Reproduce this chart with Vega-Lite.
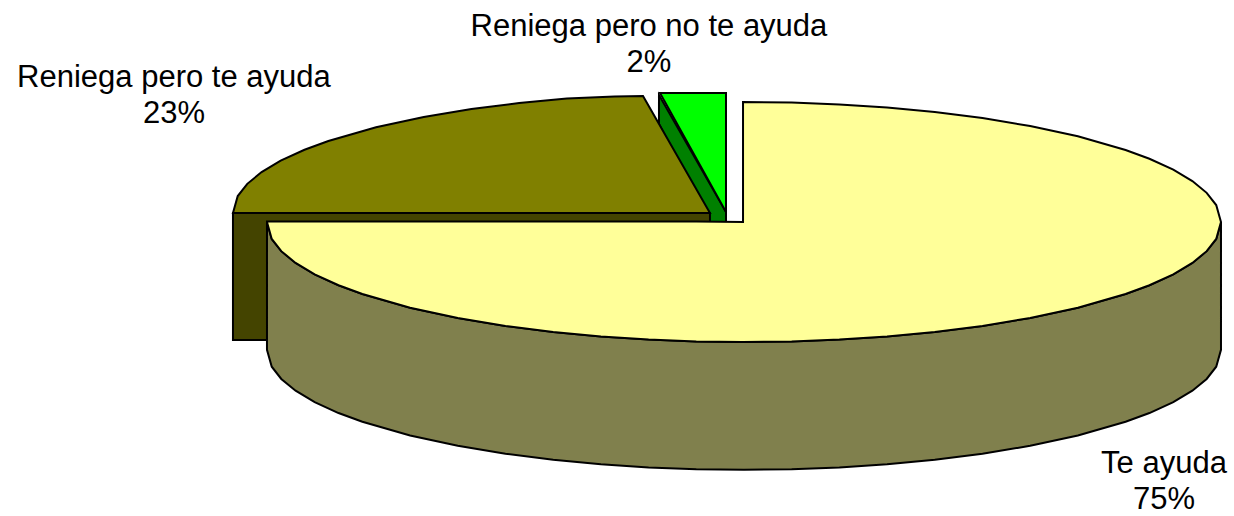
{
"$schema":"https://vega.github.io/schema/vega-lite/v6.json",
"width":1234,"height":516,
"autosize":{"type":"fit","contains":"padding"},
"padding":0,
"background":"white",
"view":{"stroke":null},
"datasets":{
"greenSide":[{"x":-17.82,"y":105.83,"y2":81.67},{"x":-7.13,"y":31.67,"y2":0},{"x":-3.77,"y":8.33,"y2":0}],
"greenTop":[{"x":-17.61,"y":107.5,"y2":107.5},{"x":-3.77,"y":107.5,"y2":8.33}],
"oliveSide":[{"x":-107.13,"y":7.5,"y2":-98.33},{"x":-7.13,"y":7.5,"y2":-98.33}],
"oliveTop":[{"x":-107.13,"y":7.5,"y2":7.5},{"x":-106.13,"y":21.6,"y2":7.5},{"x":-104.13,"y":31.8,"y2":7.5},{"x":-101.13,"y":41.6,"y2":7.5},{"x":-97.13,"y":51.1,"y2":7.5},{"x":-92.13,"y":60.2,"y2":7.5},{"x":-87.13,"y":67.5,"y2":7.5},{"x":-77.13,"y":78.9,"y2":7.5},{"x":-67.13,"y":87.5,"y2":7.5},{"x":-57.13,"y":94.1,"y2":7.5},{"x":-47.13,"y":99.2,"y2":7.5},{"x":-37.13,"y":102.9,"y2":7.5},{"x":-27.13,"y":104.6,"y2":7.5},{"x":-21.17,"y":105,"y2":7.5},{"x":-7.13,"y":7.5,"y2":7.5}],
"creamSide":[{"x":-100,"y":0,"y2":-106.5},{"x":-99,"y":-14.1,"y2":-120.6},{"x":-97,"y":-24.3,"y2":-130.8},{"x":-94,"y":-34.1,"y2":-140.6},{"x":-90,"y":-43.6,"y2":-150.1},{"x":-85,"y":-52.7,"y2":-159.2},{"x":-80,"y":-60,"y2":-166.5},{"x":-70,"y":-71.4,"y2":-177.9},{"x":-60,"y":-80,"y2":-186.5},{"x":-50,"y":-86.6,"y2":-193.1},{"x":-40,"y":-91.7,"y2":-198.2},{"x":-30,"y":-95.4,"y2":-201.9},{"x":-20,"y":-98,"y2":-204.5},{"x":-10,"y":-99.5,"y2":-206},{"x":0,"y":-100,"y2":-206.5},{"x":10,"y":-99.5,"y2":-206},{"x":20,"y":-98,"y2":-204.5},{"x":30,"y":-95.4,"y2":-201.9},{"x":40,"y":-91.7,"y2":-198.2},{"x":50,"y":-86.6,"y2":-193.1},{"x":60,"y":-80,"y2":-186.5},{"x":70,"y":-71.4,"y2":-177.9},{"x":80,"y":-60,"y2":-166.5},{"x":85,"y":-52.7,"y2":-159.2},{"x":90,"y":-43.6,"y2":-150.1},{"x":94,"y":-34.1,"y2":-140.6},{"x":97,"y":-24.3,"y2":-130.8},{"x":99,"y":-14.1,"y2":-120.6},{"x":100,"y":0,"y2":-106.5}],
"creamTop":[{"x":-100,"y":0.5,"y2":0},{"x":-99,"y":0.5,"y2":-14.1},{"x":-97,"y":0.5,"y2":-24.3},{"x":-94,"y":0.5,"y2":-34.1},{"x":-90,"y":0.5,"y2":-43.6},{"x":-85,"y":0.5,"y2":-52.7},{"x":-80,"y":0.5,"y2":-60},{"x":-70,"y":0.5,"y2":-71.4},{"x":-60,"y":0.5,"y2":-80},{"x":-50,"y":0.5,"y2":-86.6},{"x":-40,"y":0.5,"y2":-91.7},{"x":-30,"y":0.5,"y2":-95.4},{"x":-20,"y":0.5,"y2":-98},{"x":-10,"y":0.5,"y2":-99.5},{"x":-0.2,"y":0,"y2":-100},{"x":-0.2,"y":100,"y2":-100},{"x":10,"y":99.5,"y2":-99.5},{"x":20,"y":98,"y2":-98},{"x":30,"y":95.4,"y2":-95.4},{"x":40,"y":91.7,"y2":-91.7},{"x":50,"y":86.6,"y2":-86.6},{"x":60,"y":80,"y2":-80},{"x":70,"y":71.4,"y2":-71.4},{"x":80,"y":60,"y2":-60},{"x":85,"y":52.7,"y2":-52.7},{"x":90,"y":43.6,"y2":-43.6},{"x":94,"y":34.1,"y2":-34.1},{"x":97,"y":24.3,"y2":-24.3},{"x":99,"y":14.1,"y2":-14.1},{"x":100,"y":0,"y2":0}],
"labels":[{"x":-19.92,"y":162.5,"text":"Reniega pero no te ayuda"},{"x":-19.92,"y":132.5,"text":"2%"},{"x":-119.5,"y":120,"text":"Reniega pero te ayuda"},{"x":-119.5,"y":90,"text":"23%"},{"x":88.05,"y":-201.67,"text":"Te ayuda"},{"x":88.05,"y":-231.67,"text":"75%"}]
},
"encoding":{
"x":{"field":"x","type":"quantitative","axis":null,"scale":{"domain":[-155.97,102.73],"nice":false,"zero":false}},
"y":{"field":"y","type":"quantitative","axis":null,"scale":{"domain":[-245,185],"nice":false,"zero":false}}
},
"layer":[
{"data":{"name":"greenSide"},"mark":{"type":"area","fill":"#008000","stroke":"black","strokeWidth":2},"encoding":{"y2":{"field":"y2"}}},
{"data":{"name":"greenTop"},"mark":{"type":"area","fill":"#00ff00","stroke":"black","strokeWidth":2},"encoding":{"y2":{"field":"y2"}}},
{"data":{"name":"oliveSide"},"mark":{"type":"area","fill":"#444400","stroke":"black","strokeWidth":2},"encoding":{"y2":{"field":"y2"}}},
{"data":{"name":"oliveTop"},"mark":{"type":"area","fill":"#808000","stroke":"black","strokeWidth":2},"encoding":{"y2":{"field":"y2"}}},
{"data":{"name":"creamSide"},"mark":{"type":"area","fill":"#80804d","stroke":"black","strokeWidth":2},"encoding":{"y2":{"field":"y2"}}},
{"data":{"name":"creamTop"},"mark":{"type":"area","fill":"#ffff99","stroke":"black","strokeWidth":2},"encoding":{"y2":{"field":"y2"}}},
{"data":{"name":"labels"},"mark":{"type":"text","font":"Liberation Sans","fontSize":31,"color":"black","align":"center","baseline":"middle"},"encoding":{"text":{"field":"text"}}}
]
}
